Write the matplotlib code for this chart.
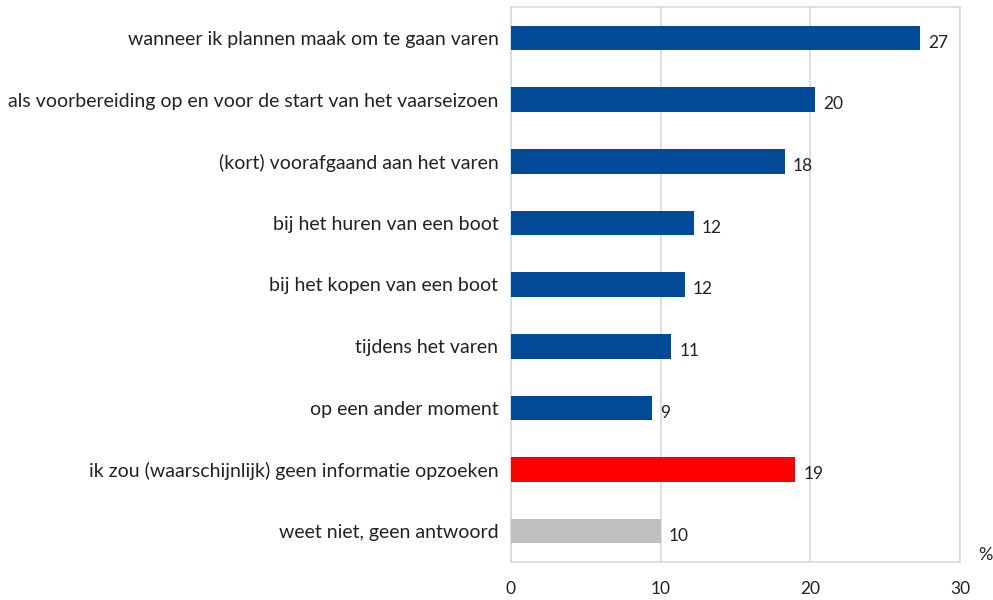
import numpy as np
import matplotlib.pyplot as plt

plt.rcParams['font.family'] = ['Lato', 'DejaVu Sans']

categories = [
    "wanneer ik plannen maak om te gaan varen",
    "als voorbereiding op en voor de start van het vaarseizoen",
    "(kort) voorafgaand aan het varen",
    "bij het huren van een boot",
    "bij het kopen van een boot",
    "tijdens het varen",
    "op een ander moment",
    "ik zou (waarschijnlijk) geen informatie opzoeken",
    "weet niet, geen antwoord",
]
values = [27.35, 20.3, 18.3, 12.2, 11.6, 10.7, 9.4, 19.0, 10.0]
labels = ["27", "20", "18", "12", "12", "11", "9", "19", "10"]
colors = ["#004A98"] * 7 + ["#FF0000", "#BFBFBF"]

fig = plt.figure(figsize=(9.93, 6), dpi=100)
ax = fig.add_axes([511 / 993, 38 / 600, 449 / 993, 555 / 600])

y = np.arange(len(categories))
ax.barh(y, values, height=0.4, color=colors, zorder=3)
for yi, v, lab in zip(y, values, labels):
    ax.text(v + 0.55, yi + 0.08, lab, va="center", ha="left", fontsize=12.5, color="#222222")

ax.set_yticks(y)
ax.set_yticklabels(categories, fontsize=14, color="#222222")
ax.set_ylim(len(categories) - 0.5, -0.5)
ax.set_xlim(0, 30)
ax.set_xticks([0, 10, 20, 30])
ax.tick_params(axis="x", length=0, pad=14, labelsize=12.5, labelcolor="#222222")
ax.tick_params(axis="y", length=0, pad=9)
ax.grid(axis="x", color="#D9D9D9", linewidth=1.2, zorder=0)
for s in ax.spines.values():
    s.set_color("#D9D9D9")
    s.set_linewidth(1.2)

fig.text(985 / 993, 1 - 555 / 600, "%", ha="center", va="center", fontsize=13, color="#222222")

fig.savefig("out.png", dpi=100)
